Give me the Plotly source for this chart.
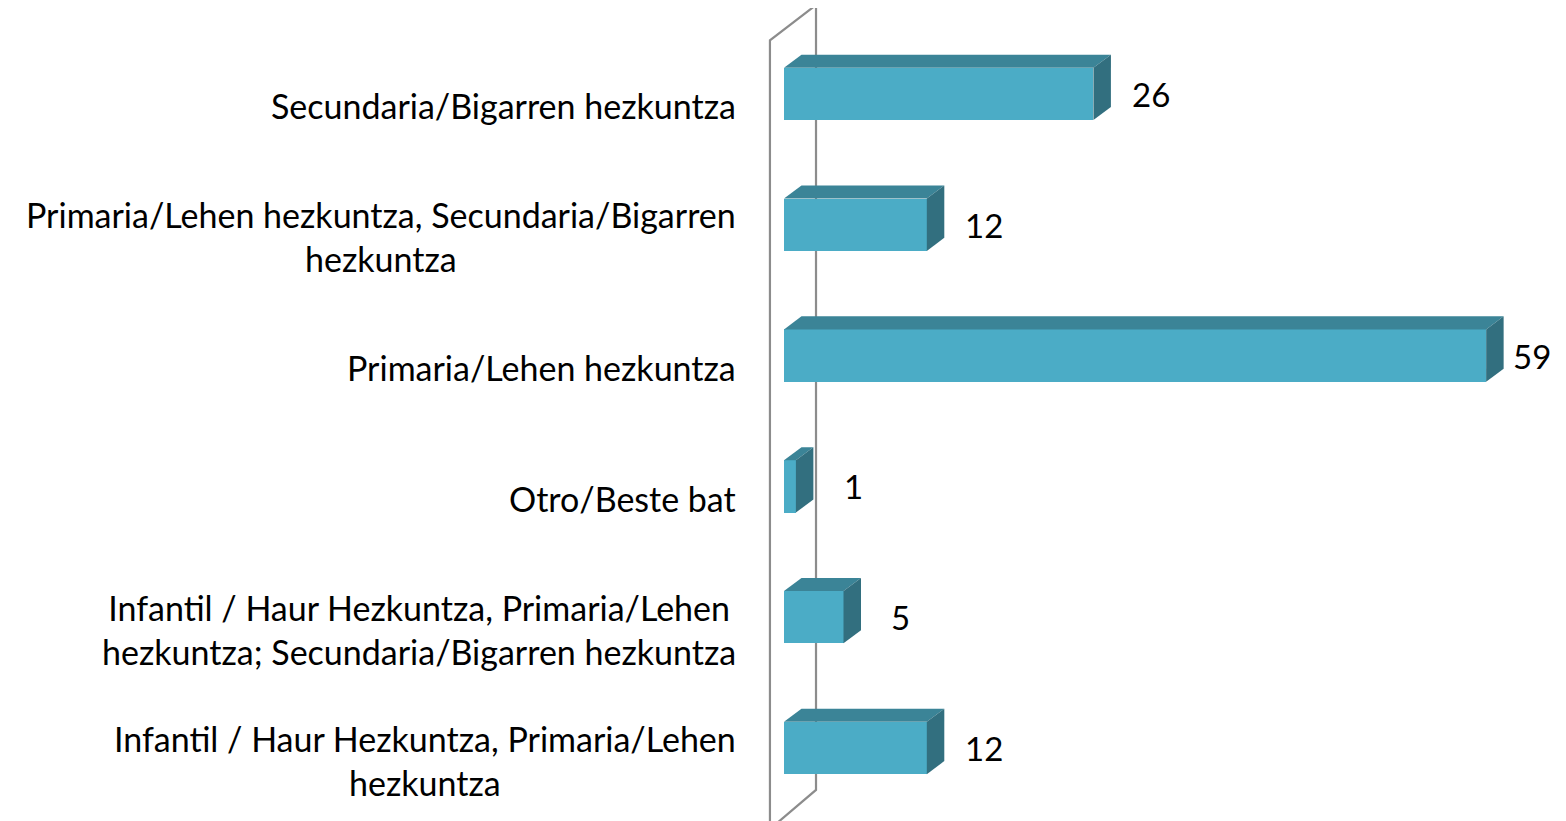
import plotly.graph_objects as go

categories = [
    "Secundaria/Bigarren hezkuntza",
    "Primaria/Lehen hezkuntza, Secundaria/Bigarren<br>hezkuntza",
    "Primaria/Lehen hezkuntza",
    "Otro/Beste bat",
    "Infantil / Haur Hezkuntza, Primaria/Lehen<br>hezkuntza; Secundaria/Bigarren hezkuntza",
    "Infantil / Haur Hezkuntza, Primaria/Lehen<br>hezkuntza",
]
values = [26, 12, 59, 1, 5, 12]

FRONT = "#4BACC6"
TOP = "#3B8497"
SIDE = "#326F7F"
WALL = "#8C8C8C"
FONT = "Lato"

BAR_H = 0.4    # bar thickness in category units
DX = 1.47      # 3d depth, x units
DY = 0.1       # 3d depth, category units
X_MAX = 65.71

n = len(categories)
ypos = [n - 1 - i for i in range(n)]

fig = go.Figure()

# front faces
fig.add_trace(go.Bar(
    x=values, y=ypos, orientation="h", width=BAR_H,
    marker=dict(color=FRONT, line_width=0), hoverinfo="skip",
))

# top and side faces
for v, y in zip(values, ypos):
    t = y + BAR_H / 2
    b = y - BAR_H / 2
    fig.add_trace(go.Scatter(
        x=[0, v, v + DX, DX, 0], y=[t, t, t + DY, t + DY, t],
        fill="toself", fillcolor=TOP, mode="lines", line_width=0, hoverinfo="skip",
    ))
    fig.add_trace(go.Scatter(
        x=[v, v + DX, v + DX, v, v], y=[b, b + DY, t + DY, t, b],
        fill="toself", fillcolor=SIDE, mode="lines", line_width=0, hoverinfo="skip",
    ))

# axis wall
wx0, wx1 = -1.18, 2.69
fig.add_shape(
    type="path", layer="below", line=dict(color=WALL, width=2.2),
    path=f"M {wx0},-0.62 L {wx0},5.41 L {wx1},5.68 L {wx1},-0.32 Z",
)

for cat, v, y in zip(categories, values, ypos):
    fig.add_annotation(
        x=0, xref="paper", xanchor="right", xshift=-2,
        y=y - 0.092, yanchor="middle", text=cat, align="center",
        showarrow=False, font=dict(family=FONT, size=34, color="#000000"),
    )
    # value label, kept inside the plot area
    fig.add_annotation(
        x=min(v + 4.8, X_MAX - 2.85), y=y, xanchor="center", yanchor="middle", text=str(v),
        showarrow=False, font=dict(family=FONT, size=33, color="#000000"),
    )

fig.update_layout(
    width=1558, height=813,
    margin=dict(l=732, r=0, t=0, b=0),
    plot_bgcolor="white", paper_bgcolor="white",
    showlegend=False, bargap=0,
)
fig.update_xaxes(range=[-3.697, X_MAX], visible=False)
fig.update_yaxes(range=[-0.558, 5.657], visible=False)

fig.write_html("out.html")
